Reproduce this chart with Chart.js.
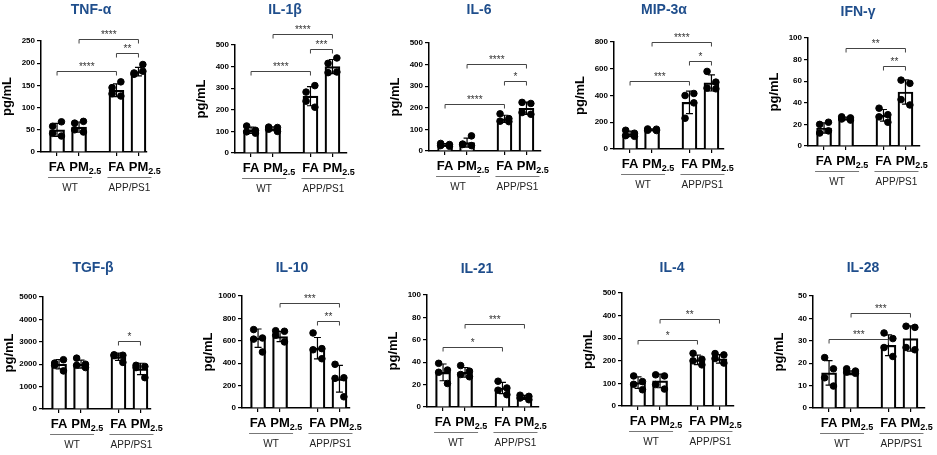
<!DOCTYPE html>
<html>
<head>
<meta charset="utf-8">
<script src="https://cdn.jsdelivr.net/npm/chart.js@4.4.1/dist/chart.umd.min.js"></script>
<style>
  body { margin: 0; background: #fff; }
  #fig { position: relative; width: 937px; height: 455px; overflow: hidden; }
  #fig canvas { position: absolute; }
</style>
</head>
<body>
<div id="fig"></div>
<script>
// Cytokine panels, values (pg/mL)
const titles = ["TNF-α", "IL-1β", "IL-6", "MIP-3α", "IFN-γ", "TGF-β", "IL-10", "IL-21", "IL-4", "IL-28"];
const barLabels = ["FA", "PM", "FA", "PM"];   // PM drawn with subscript 2.5
const strainLabels = ["WT", "APP/PS1"];
const yMax = [250, 500, 500, 800, 100, 5000, 1000, 100, 500, 50];
const yStep = [50, 100, 100, 200, 20, 1000, 200, 20, 100, 10];

// bar heights: WT FA, WT PM2.5, APP/PS1 FA, APP/PS1 PM2.5
const means = [
  [50, 56, 139, 181],
  [105, 112, 263, 400],
  [28, 39, 149, 198],
  [113, 145, 349, 494],
  [16.7, 25.5, 28.4, 50],
  [2000, 2000, 2330, 1790],
  [623, 638, 534, 261],
  [30.9, 30.9, 17, 8.6],
  [103.5, 111, 204, 208.6],
  [15.7, 15.7, 28, 31]
];

// individual animals (4 per group)
const points = [
  [[58, 68, 42, 36], [65, 69, 50, 45], [131, 158, 145, 126], [175, 197, 178, 182]],
  [[125, 105, 98, 92], [120, 118, 110, 100], [240, 312, 282, 212], [372, 440, 415, 375]],
  [[35, 30, 25, 22], [30, 70, 32, 25], [172, 150, 138, 136], [225, 220, 178, 170]],
  [[140, 118, 100, 95], [150, 148, 140, 138], [400, 415, 230, 345], [580, 500, 455, 450]],
  [[12, 22, 20, 14], [27, 26, 25, 24], [35, 29, 27, 22], [61, 58, 43, 38]],
  [[2050, 2200, 1950, 1700], [2270, 2000, 1950, 1850], [2420, 2400, 2380, 2080], [1950, 1900, 1850, 1400]],
  [[700, 625, 615, 500], [690, 685, 650, 590], [670, 530, 520, 440], [390, 270, 265, 100]],
  [[39, 33, 31, 21], [37, 32, 29, 27], [23, 17, 15, 11], [10.5, 9.5, 8, 6.5]],
  [[133, 108, 96, 72], [138, 133, 95, 75], [233, 207, 200, 182], [232, 226, 210, 190]],
  [[22.5, 17.5, 13.5, 9.8], [17.5, 16.5, 16, 15.5], [33.5, 31, 27, 23], [36.5, 36, 27, 26]]
];

// significance brackets: [from bar, to bar, height, stars]
const brackets = [
  [[0, 2, 182, "****"], [2, 3, 224, "**"], [1, 3, 254, "****"]],
  [[0, 2, 379, "****"], [2, 3, 480, "***"], [1, 3, 553, "****"]],
  [[0, 2, 217, "****"], [2, 3, 322, "*"], [1, 3, 402, "****"]],
  [[0, 2, 511, "***"], [2, 3, 656, "*"], [1, 3, 798, "****"]],
  [[2, 3, 73.8, "**"], [1, 3, 90.7, "**"]],
  [[2, 3, 3033, "*"]],
  [[2, 3, 777, "**"], [1, 3, 941, "***"]],
  [[0, 2, 53.4, "*"], [1, 3, 74.2, "***"]],
  [[0, 2, 293, "*"], [1, 3, 386, "**"]],
  [[0, 2, 31, "***"], [1, 3, 42.4, "***"]]
];

// layout (pixels on the page)
const panels = [
  { x: 41, top: 41, bottom: 152, w: 106, ty: 10 },
  { x: 235, top: 45, bottom: 153, w: 112, ty: 10 },
  { x: 429, top: 43, bottom: 151, w: 112, ty: 10 },
  { x: 614, top: 42, bottom: 149, w: 110, ty: 10 },
  { x: 808, top: 38, bottom: 146, w: 112, ty: 12 },
  { x: 43, top: 297, bottom: 409, w: 108, ty: 268 },
  { x: 242, top: 296, bottom: 408, w: 108, ty: 268 },
  { x: 427, top: 295, bottom: 407, w: 112, ty: 269 },
  { x: 622, top: 293, bottom: 406, w: 112, ty: 268 },
  { x: 813, top: 296, bottom: 408, w: 112, ty: 268 }
];
const barX = [0, 1, 2.7, 3.7];
const jitter = [-0.2, 0.2, -0.2, 0.2];
const PX_PER_UNIT = 22;
const FONT = "'Liberation Sans', Arial, sans-serif";
const TITLE_COLOR = "#1F4E8C";

function sd(arr) {
  const m = arr.reduce((a, b) => a + b, 0) / arr.length;
  return Math.sqrt(arr.reduce((a, b) => a + (b - m) ** 2, 0) / (arr.length - 1));
}

const deco = {
  id: "deco",
  afterDatasetDraw(chart, args, opts) {
    if (args.index !== 0) return;
    const { ctx } = chart;
    const x = chart.scales.x, y = chart.scales.y;
    const i = opts.idx;
    ctx.save();
    ctx.strokeStyle = "#000";
    ctx.lineWidth = 1.2;
    means[i].forEach((m, k) => {
      const s = sd(points[i][k]);
      const px = x.getPixelForValue(barX[k]);
      const y1 = y.getPixelForValue(m + s), y2 = y.getPixelForValue(Math.max(0, m - s));
      ctx.beginPath();
      ctx.moveTo(px, y1); ctx.lineTo(px, y2);
      ctx.moveTo(px - 3.5, y1); ctx.lineTo(px + 3.5, y1);
      ctx.moveTo(px - 3.5, y2); ctx.lineTo(px + 3.5, y2);
      ctx.stroke();
    });
    ctx.restore();
  },
  afterDraw(chart, args, opts) {
    const { ctx, chartArea } = chart;
    const x = chart.scales.x, y = chart.scales.y;
    const i = opts.idx;
    ctx.save();
    // title
    ctx.fillStyle = TITLE_COLOR;
    ctx.font = "bold 14px " + FONT;
    ctx.textAlign = "center";
    ctx.textBaseline = "middle";
    ctx.fillText(titles[i], chartArea.left + 50, 12);

    // bar labels
    ctx.fillStyle = "#000";
    ctx.textBaseline = "alphabetic";
    const base = chartArea.bottom + 19;
    barLabels.forEach((lab, k) => {
      const px = x.getPixelForValue(barX[k]);
      ctx.font = "bold 13px " + FONT;
      ctx.textAlign = "center";
      ctx.fillText(lab, px, base);
      if (lab === "PM") {
        const w = ctx.measureText(lab).width;
        ctx.font = "bold 9px " + FONT;
        ctx.textAlign = "left";
        ctx.fillText("2.5", px + w / 2, base + 3);
      }
    });

    // strain underlines and names
    strainLabels.forEach((lab, g) => {
      const c = (x.getPixelForValue(barX[2 * g]) + x.getPixelForValue(barX[2 * g + 1])) / 2 + 2;
      ctx.strokeStyle = "#777";
      ctx.lineWidth = 1;
      ctx.beginPath();
      ctx.moveTo(c - 22, chartArea.bottom + 25.5);
      ctx.lineTo(c + 22, chartArea.bottom + 25.5);
      ctx.stroke();
      ctx.fillStyle = "#222";
      ctx.font = "10px " + FONT;
      ctx.textAlign = "center";
      ctx.textBaseline = "middle";
      ctx.fillText(lab, c, chartArea.bottom + 36);
    });

    // brackets
    ctx.strokeStyle = "#444";
    ctx.fillStyle = "#333";
    ctx.lineWidth = 1;
    ctx.font = "10px " + FONT;
    ctx.textAlign = "center";
    ctx.textBaseline = "alphabetic";
    brackets[i].forEach(([a, b, v, stars]) => {
      const x1 = x.getPixelForValue(barX[a]), x2 = x.getPixelForValue(barX[b]);
      const yy = Math.round(y.getPixelForValue(v)) + 0.5;
      ctx.beginPath();
      ctx.moveTo(x1, yy + 4); ctx.lineTo(x1, yy); ctx.lineTo(x2, yy); ctx.lineTo(x2, yy + 4);
      ctx.stroke();
      ctx.fillText(stars, (x1 + x2) / 2, yy - 2);
    });
    ctx.restore();
  }
};

const fig = document.getElementById("fig");
panels.forEach((p, i) => {
  const padR = 24;
  const cTop = p.ty - 12;
  const cLeft = p.x - 42;
  const cw = 42 + p.w + padR;
  const ch = p.bottom - cTop + 45;
  const canvas = document.createElement("canvas");
  canvas.width = cw; canvas.height = ch;
  canvas.style.left = cLeft + "px";
  canvas.style.top = cTop + "px";
  canvas.style.width = cw + "px";
  canvas.style.height = ch + "px";
  fig.appendChild(canvas);

  const xMin = -0.73;
  const xMaxV = xMin + p.w / PX_PER_UNIT;

  const barData = means[i].map((m, k) => ({ x: barX[k], y: m }));
  const dotData = [];
  points[i].forEach((grp, k) => grp.forEach((v, j) => dotData.push({ x: barX[k] + jitter[j], y: v })));

  new Chart(canvas, {
    type: "bar",
    data: {
      datasets: [
        {
          data: barData,
          backgroundColor: "#fff",
          borderColor: "#000",
          borderWidth: 2.2,
          barThickness: 15,
          order: 2
        },
        {
          type: "scatter",
          data: dotData,
          backgroundColor: "#000",
          borderColor: "#000",
          pointRadius: 3.3,
          order: 1
        }
      ]
    },
    options: {
      responsive: false,
      animation: false,
      events: [],
      layout: { padding: { top: p.top - cTop, left: 0, right: padR, bottom: 0 } },
      plugins: { legend: { display: false }, tooltip: { enabled: false }, deco: { idx: i } },
      scales: {
        x: {
          type: "linear",
          min: xMin,
          max: xMaxV,
          offset: false,
          afterBuildTicks: s => { s.ticks = barX.map(v => ({ value: v })); },
          afterFit: s => { s.height = 45; },
          ticks: { callback: () => "", autoSkip: false },
          grid: { offset: false, drawOnChartArea: false, tickLength: 4, color: "#000", lineWidth: 1.2 },
          border: { color: "#000", width: 1.5 }
        },
        y: {
          min: 0,
          max: yMax[i],
          afterFit: s => { s.width = 42; },
          ticks: {
            stepSize: yStep[i], color: "#000", padding: 2,
            callback: v => String(v),
            font: { family: FONT, size: 8, weight: "bold" }
          },
          grid: { drawOnChartArea: false, tickLength: 4, color: "#000", lineWidth: 1.2 },
          border: { color: "#000", width: 1.5 },
          title: { display: true, text: "pg/mL", color: "#000", padding: 1, font: { family: FONT, size: 13, weight: "bold" } }
        }
      }
    },
    plugins: [deco]
  });
});
</script>
</body>
</html>
